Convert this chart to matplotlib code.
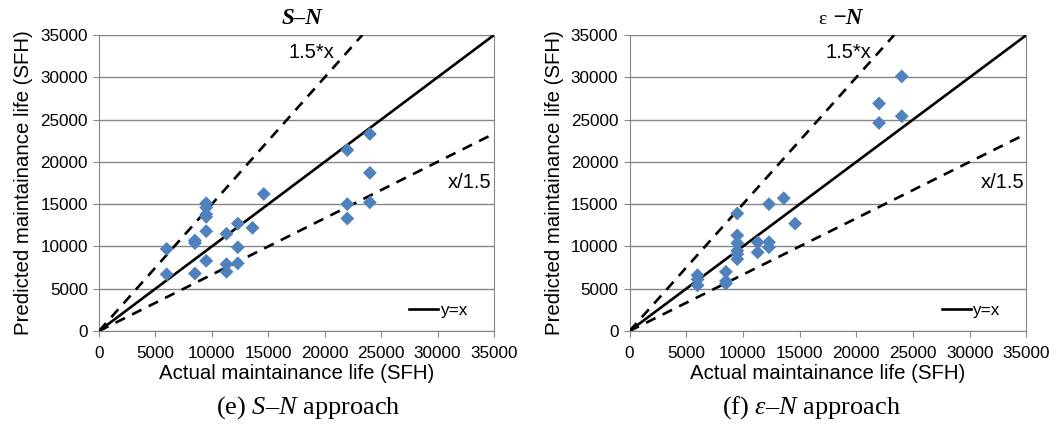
import numpy as np
import matplotlib
matplotlib.use("Agg")
import matplotlib.pyplot as plt

# actual vs predicted maintenance life (SFH), S-N approach
sn_actual = [6000, 6000, 8500, 8500, 8500,
             9500, 9500, 9500, 9500, 9500, 9500,
             11300, 11300, 11300, 12300, 12300, 12300,
             13600, 14600, 22000, 22000, 22000, 24000, 24000, 24000]
sn_predicted = [9700, 6700, 10700, 10400, 6800,
                15100, 14600, 13800, 13500, 11800, 8300,
                11500, 7900, 7000, 12700, 9900, 8000,
                12200, 16200, 21400, 15000, 13300, 23300, 18700, 15200]

# epsilon-N approach
en_actual = [6000, 6000, 6000, 8500, 8500, 8500,
             9500, 9500, 9500, 9500, 9500, 9500,
             11300, 11300, 12300, 12300, 12300,
             13600, 14600, 22000, 22000, 24000, 24000]
en_predicted = [6600, 6100, 5400, 7000, 5900, 5600,
                13900, 11300, 10400, 9500, 9100, 8500,
                10500, 9300, 15000, 10500, 9900,
                15700, 12700, 26900, 24600, 30100, 25400]

ticks = np.arange(0, 35001, 5000)
lim = 35000

sans = "Liberation Sans"
serif = "Liberation Serif"
grey = "#868686"

plt.rcParams["mathtext.fontset"] = "custom"
plt.rcParams["mathtext.rm"] = serif
plt.rcParams["mathtext.it"] = serif + ":italic"
plt.rcParams["mathtext.bf"] = serif + ":bold"

fig = plt.figure(figsize=(10.59, 4.28), dpi=100)
W, H = 1059, 428
ax1 = fig.add_axes([99 / W, 1 - 331 / H, 395 / W, 296 / H])
ax2 = fig.add_axes([629.5 / W, 1 - 331 / H, 397 / W, 296 / H])


def draw_panel(ax, actual, predicted, upper_x):
    ref = np.array([0, lim])
    ax.plot(ref, ref, color="black", lw=1.9, label="y=x", zorder=3)
    ax.plot([0, lim / 1.5], [0, lim], color="black", lw=1.9,
            ls=(0, (4, 3)), zorder=3)
    ax.plot([0, lim], [0, lim / 1.5], color="black", lw=1.9,
            ls=(0, (4, 3)), zorder=3)
    ax.scatter(actual, predicted, marker="D", s=50, color="#4F81BD",
               edgecolors="none", zorder=4)
    ax.set_xlim(0, lim)
    ax.set_ylim(0, lim)
    ax.set_xticks(ticks)
    ax.set_yticks(ticks)
    ax.yaxis.grid(True, color=grey, lw=1)
    ax.set_axisbelow(True)
    for sp in ax.spines.values():
        sp.set_color(grey)
    ax.tick_params(axis="both", direction="out", length=4, color=grey,
                   labelsize=12.3, pad=4)
    ax.tick_params(axis="x", pad=7)
    for lab in ax.get_xticklabels() + ax.get_yticklabels():
        lab.set_fontfamily(sans)
    ax.set_xlabel("Actual maintainance life (SFH)", fontsize=14.7,
                  fontfamily=sans, labelpad=2)
    ax.set_ylabel("Predicted maintainance life (SFH)", fontsize=14.7,
                  fontfamily=sans, labelpad=5)
    ax.legend(loc="lower right", frameon=False, handlelength=1.7,
              handletextpad=0.1, borderaxespad=0.35,
              bbox_to_anchor=(0.965, 0.0),
              prop={"family": sans, "size": 12.3})
    ax.text(upper_x, 32900, "1.5*x", fontsize=14.5, fontfamily=sans,
            ha="center", va="center")
    ax.text(34800, 17600, "x/1.5", fontsize=14.5, fontfamily=sans,
            ha="right", va="center")


draw_panel(ax1, sn_actual, sn_predicted, 18800)
draw_panel(ax2, en_actual, en_predicted, 19300)

# panel titles
fig.text(302 / W, 1 - 19 / H, "S–N", fontsize=16.5, fontfamily=serif,
         fontweight="bold", fontstyle="italic", ha="center", va="center")
fig.text(832 / W, 1 - 19 / H, "ε ", fontsize=14, fontfamily=serif,
         ha="right", va="center")
fig.text(832 / W, 1 - 19 / H, "−N", fontsize=16.5, fontfamily=serif,
         fontweight="bold", fontstyle="italic", ha="left", va="center")

# panel captions
fig.text(308 / W, 1 - 408 / H, r"(e) $S$–$N$ approach", fontsize=19,
         fontfamily=serif, ha="center", va="center")
fig.text(811 / W, 1 - 408 / H, r"(f) $\varepsilon$–$N$ approach",
         fontsize=19, fontfamily=serif, ha="center", va="center")

fig.savefig("out.png", dpi=100)
